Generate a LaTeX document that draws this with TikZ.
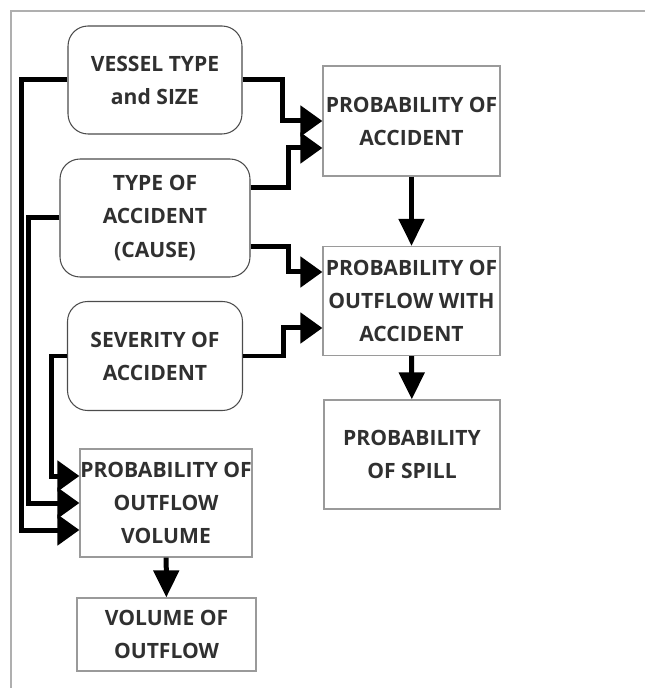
\documentclass[tikz,border=0pt]{standalone}
\usepackage{fontspec}
\setmainfont{Open Sans}
\usetikzlibrary{arrows.meta,calc}
\definecolor{txtgray}{HTML}{303030}
\definecolor{boxgray}{HTML}{9A9A9A}
\definecolor{framegray}{HTML}{AFAFAF}
\begin{document}
\begin{tikzpicture}[x=0.02cm, y=-0.02cm,
  cond/.style={rectangle, rounded corners=0.4cm, draw=black!70, line width=0.6pt, inner sep=0pt, align=center, text=txtgray, font=\bfseries\fontsize{12}{18.8}\selectfont},
  prob/.style={rectangle, draw=boxgray, line width=0.7pt, inner sep=0pt, align=center, text=txtgray, font=\bfseries\fontsize{12}{18.8}\selectfont},
  flow/.style={line width=0.1cm, -{Triangle[length=0.44cm, width=0.6cm]}},
  drop/.style={line width=0.1cm, -{Triangle[length=0.54cm, width=0.5cm]}}]
  \useasboundingbox (0,0) rectangle (645,688);
  % Frame
  \draw[framegray, line width=1.2pt] (11,688) -- (11,11) -- (645,11);
  % Nodes
  \node (vessel) [cond, minimum width=3.48cm, minimum height=2.16cm] at (155, 80) {VESSEL TYPE\\and SIZE};
  \node (cause) [cond, minimum width=3.8cm, minimum height=2.36cm] at (155, 218) {TYPE OF\\ACCIDENT\\(CAUSE)};
  \node (severity) [cond, minimum width=3.5cm, minimum height=2.18cm] at (155, 356) {SEVERITY OF\\ACCIDENT};
  \node (pacc) [prob, minimum width=3.54cm, minimum height=2.2cm] at (411.5, 121) {PROBABILITY OF\\ACCIDENT};
  \node (pout) [prob, minimum width=3.54cm, minimum height=2.18cm] at (411.5, 301) {PROBABILITY OF\\OUTFLOW WITH\\ACCIDENT};
  \node (pspill) [prob, minimum width=3.52cm, minimum height=2.18cm] at (412, 454.5) {PROBABILITY\\OF SPILL};
  \node (pvol) [prob, minimum width=3.44cm, minimum height=2.16cm] at (166, 503) {PROBABILITY OF\\OUTFLOW\\VOLUME};
  \node (vol) [prob, minimum width=3.58cm, minimum height=1.46cm] at (166.5, 634.5) {VOLUME OF\\OUTFLOW};
  % Arrows to the right
  \draw[flow] (vessel.east) -- ++(40,0) |- (pacc.west);
  \draw[flow] ($(cause.east)+(0,-30)$) -- ++(38,0) |- ($(pacc.west)+(0,27)$);
  \draw[flow] ($(cause.east)+(0,29)$) -- ++(38,0) |- ($(pout.west)+(0,-29)$);
  \draw[flow] (severity.east) -- ++(40,0) |- ($(pout.west)+(0,27)$);
  \draw[drop] (pacc) -- (pout);
  \draw[drop] (pout) -- (pspill);
  % Arrows down the left side
  \draw[flow] (vessel.west) -- ++(-45.5,0) |- ($(pvol.west)+(0,27)$);
  \draw[flow] (cause.west) -- ++(-30.5,0) |- (pvol.west);
  \draw[flow] (severity.west) -- ++(-15.5,0) |- ($(pvol.west)+(0,-27)$);
  \draw[drop] (pvol) -- (vol);
\end{tikzpicture}
\end{document}
